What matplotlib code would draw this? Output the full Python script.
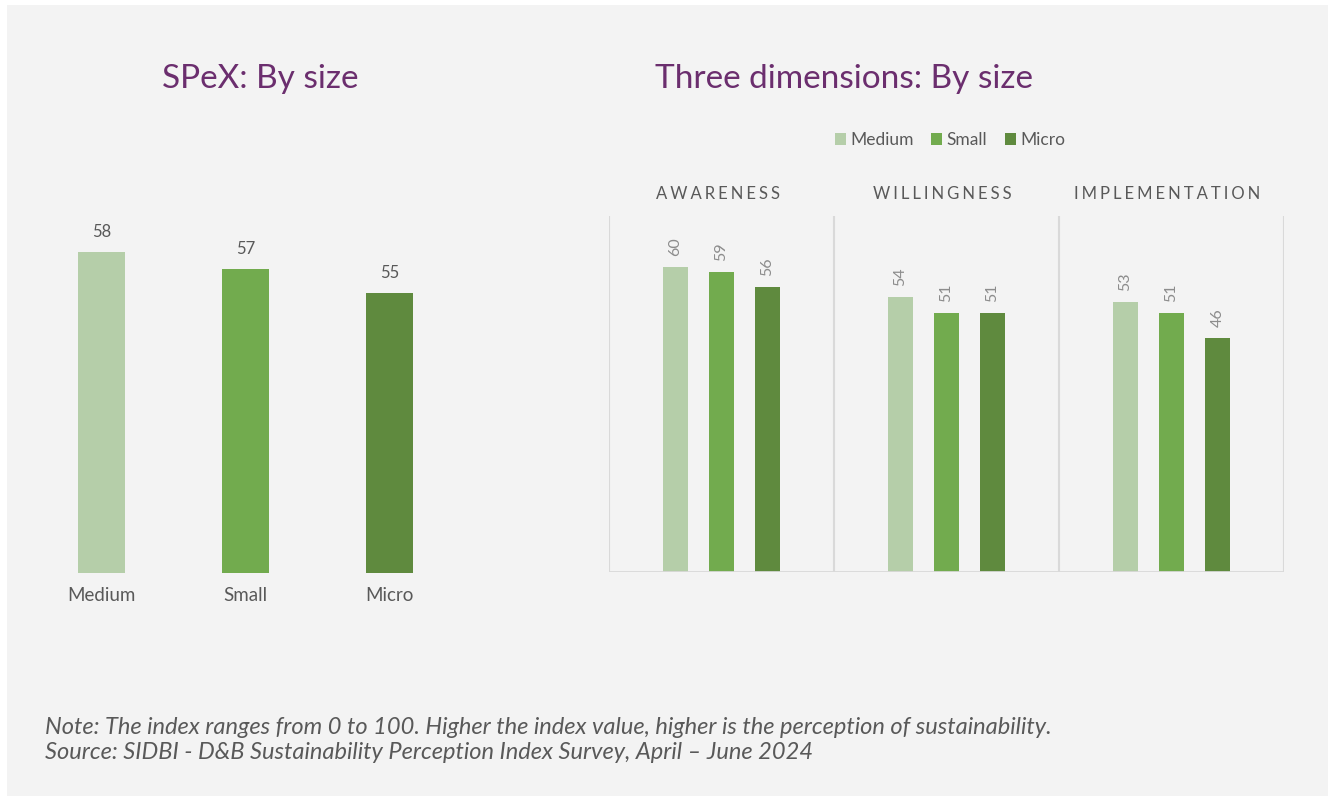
import matplotlib
matplotlib.use("Agg")
import matplotlib.pyplot as plt
import numpy as np
from matplotlib.patches import Rectangle, Patch

plt.rcParams["font.family"] = ["Lato", "DejaVu Sans"]

sizes = ["Medium", "Small", "Micro"]
spex = [57.9, 56.7, 55.0]                       # bar heights
spex_labels = [58, 57, 55]
dims = ["AWARENESS", "WILLINGNESS", "IMPLEMENTATION"]
dim_values = {"Medium": [60, 54, 53],
              "Small": [59, 51, 51],
              "Micro": [56, 51, 46]}

COLORS = {"Medium": "#B5CEA9", "Small": "#72AB4E", "Micro": "#5F8A3E"}
PURPLE = "#6B2E6E"
GREY = "#595959"
LIGHT = "#8C8C8C"
RULE = "#D9D9D9"

W, H = 1328, 796
fig = plt.figure(figsize=(W / 100, H / 100), dpi=100, facecolor="white")
fig.patches.append(Rectangle((7 / W, 0), 1, 1 - 5 / H, transform=fig.transFigure,
                             facecolor="#F3F3F3", edgecolor="none", zorder=-10))


def fx(px): return px / W
def fy(py): return 1 - py / H


# ---- left: SPeX by size
ax1 = fig.add_axes([fx(29.5), fy(573), fx(461.5) - fx(29.5), fy(223) - fy(573)])
ax1.set_facecolor("none")
x = np.arange(len(sizes))
ax1.bar(x, spex, width=0.33, color=[COLORS[s] for s in sizes])
for xi, v, lab in zip(x, spex, spex_labels):
    ax1.annotate(f"{lab}", (xi, v), xytext=(0, 9), textcoords="offset points",
                 ha="center", va="bottom", fontsize=12, color=GREY)
ax1.set_ylim(35, 60)
ax1.set_xlim(-0.5, 2.5)
ax1.set_xticks(x)
ax1.set_xticklabels(sizes, fontsize=13.5, color=GREY)
ax1.tick_params(axis="x", length=0, pad=10)
ax1.set_yticks([])
for s in ax1.spines.values(): s.set_visible(False)

fig.text(fx(260), fy(88), "SPeX: By size", ha="center", va="baseline",
         fontsize=24, color=PURPLE)

# ---- right: three dimensions by size
ax2 = fig.add_axes([fx(609), fy(572), fx(1284) - fx(609), fy(216) - fy(572)])
ax2.set_facecolor("none")
off = 46 / 225
for k, s in enumerate(sizes):
    xs = np.arange(len(dims)) + 0.5 + (k - 1) * off
    ax2.bar(xs, dim_values[s], width=25 / 225, color=COLORS[s])
    for xi, v in zip(xs, dim_values[s]):
        ax2.annotate(f"{v}", (xi, v), xytext=(0, 8), textcoords="offset points",
                     ha="center", va="bottom", rotation=90, fontsize=11.5, color=LIGHT)
ax2.set_xlim(0, 3)
ax2.set_ylim(0, 70)
for b in range(4):
    ax2.axvline(b, color=RULE, lw=1.5)
ax2.axhline(0, color=RULE, lw=2)
ax2.set_xticks([]); ax2.set_yticks([])
for s in ax2.spines.values(): s.set_visible(False)

# category headers, letter-spaced with hair spaces
for i, d in enumerate(dims):
    spaced = "\u200a\u200a\u200a".join(d)
    fig.text(fx(609 + 225 * (i + 0.5) - 4), fy(199), spaced,
             ha="center", va="baseline", fontsize=12, color=GREY)

fig.text(fx(655), fy(88), "Three dimensions: By size", ha="left", va="baseline",
         fontsize=24, color=PURPLE)

handles = [Patch(facecolor=COLORS[s], edgecolor="none") for s in sizes]
fig.legend(handles, sizes, loc="center", bbox_to_anchor=(fx(950), fy(140)), ncol=3,
           frameon=False, fontsize=12.5, handlelength=0.65, handleheight=0.65,
           handletextpad=0.25, columnspacing=1.0, labelcolor=GREY)

fig.text(fx(45), fy(734), "Note: The index ranges from 0 to 100. Higher the index value, "
         "higher is the perception of sustainability.", style="italic",
         fontsize=17, color=GREY, va="baseline")
fig.text(fx(45), fy(759), "Source: SIDBI - D&B Sustainability Perception Index Survey, "
         "April \u2013 June 2024", style="italic", fontsize=17, color=GREY, va="baseline")

fig.savefig("out.png", dpi=100, facecolor="white")
